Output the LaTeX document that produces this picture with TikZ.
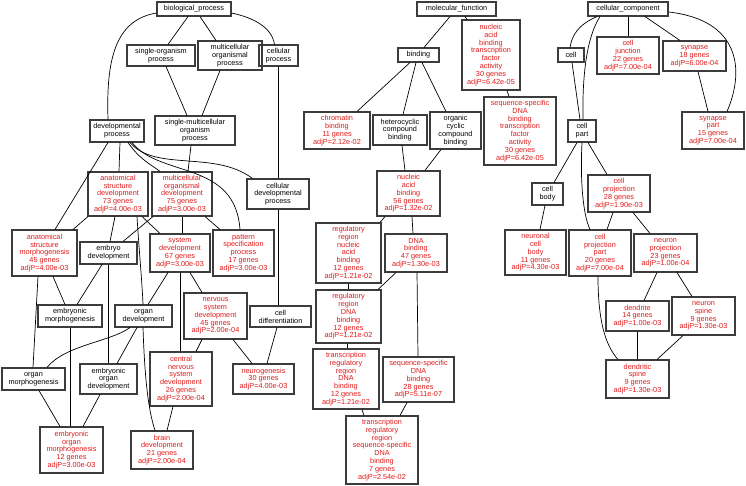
\documentclass[tikz,border=0pt]{standalone}
\usepackage{fontspec}
\setmainfont{Liberation Sans}
\definecolor{gored}{RGB}{225,25,25}
\definecolor{boxline}{RGB}{60,60,60}
\tikzset{
  bx/.style={draw=boxline, line width=1.05pt, inner sep=0pt, align=center,
    font=\fontsize{7.3}{7.8}\selectfont, text=black},
  rd/.style={bx, text=gored},
  edge/.style={draw=black, line width=0.7pt}
}
\newcommand\gn[7]{\node[#1,minimum width=#5pt,minimum height=#6pt] (#2) at (#3,#4) {#7};}
\newcommand\E[4]{\draw[edge] ([xshift=#2]#1.south) -- ([xshift=#4]#3.north);}
\begin{document}
\begin{tikzpicture}[x=1pt,y=-1pt]
\useasboundingbox[fill=white] (0,0) rectangle (746,486);
% ---------------- biological process
\gn{bx}{bp}{194}{9}{74}{14}{biological\_process}
\gn{bx}{sop}{161}{55.5}{68}{21}{single-organism\\process}
\gn{bx}{mop}{230}{55.5}{64}{29}{multicellular\\organismal\\process}
\gn{bx}{cp}{278.5}{55.5}{39}{21}{cellular\\process}
\gn{bx}{dp}{117}{131}{54}{22}{developmental\\process}
\gn{bx}{smop}{195}{130.5}{80}{29}{single-multicellular\\organism\\process}
\gn{rd}{asd}{118}{194}{60}{44}{anatomical\\structure\\development\\73 genes\\adjP=4.00e-03}
\gn{rd}{mod}{182}{194}{60}{44}{multicellular\\organismal\\development\\75 genes\\adjP=3.00e-03}
\gn{bx}{cdp}{278}{194}{62}{30}{cellular\\developmental\\process}
\gn{rd}{asm}{44.5}{253}{65}{46}{anatomical\\structure\\morphogenesis\\45 genes\\adjP=4.00e-03}
\gn{bx}{ed}{108.5}{253}{57}{22}{embryo\\development}
\gn{rd}{sd}{180}{253}{60}{38}{system\\development\\67 genes\\adjP=3.00e-03}
\gn{rd}{psp}{243.5}{253}{61}{46}{pattern\\specification\\process\\17 genes\\adjP=3.00e-03}
\gn{bx}{em}{70}{316}{64}{22}{embryonic\\morphogenesis}
\gn{bx}{od}{143.5}{316}{57}{22}{organ\\development}
\gn{rd}{nsd}{215.5}{316}{63}{46}{nervous\\system\\development\\45 genes\\adjP=2.00e-04}
\gn{bx}{cd}{280.5}{316.5}{61}{21}{cell\\differentiation}
\gn{bx}{om}{33.5}{379}{63}{22}{organ\\morphogenesis}
\gn{bx}{eod}{108.5}{379}{57}{30}{embryonic\\organ\\development}
\gn{rd}{cnsd}{181}{379}{62}{54}{central\\nervous\\system\\development\\26 genes\\adjP=2.00e-04}
\gn{rd}{ng}{263.5}{379}{61}{30}{neurogenesis\\30 genes\\adjP=4.00e-03}
\gn{rd}{eom}{71.5}{450}{63}{46}{embryonic\\organ\\morphogenesis\\12 genes\\adjP=3.00e-03}
\gn{rd}{brd}{162}{450}{62}{38}{brain\\development\\21 genes\\adjP=2.00e-04}
% ---------------- molecular function
\gn{bx}{mf}{456.5}{9}{79}{14}{molecular\_function}
\gn{bx}{bind}{418.5}{55}{41}{14}{binding}
\gn{rd}{nabtfa}{491}{55}{58}{70}{nucleic\\acid\\binding\\transcription\\factor\\activity\\30 genes\\adjP=6.42e-05}
\gn{rd}{chb}{337}{130.5}{66}{37}{chromatin\\binding\\11 genes\\adjP=2.12e-02}
\gn{bx}{hcb}{400}{130}{54}{30}{heterocyclic\\compound\\binding}
\gn{bx}{occb}{455.5}{130.5}{51}{37}{organic\\cyclic\\compound\\binding}
\gn{rd}{ssdbtfa}{520}{131}{72}{68}{sequence-specific\\DNA\\binding\\transcription\\factor\\activity\\30 genes\\adjP=6.42e-05}
\gn{rd}{nab}{408.5}{193.5}{63}{45}{nucleic\\acid\\binding\\56 genes\\adjP=1.32e-02}
\gn{rd}{rrnab}{348.5}{253}{65}{60}{regulatory\\region\\nucleic\\acid\\binding\\12 genes\\adjP=1.21e-02}
\gn{rd}{dnab}{416}{253}{62}{38}{DNA\\binding\\47 genes\\adjP=1.30e-03}
\gn{rd}{rrdb}{348.5}{316.5}{65}{53}{regulatory\\region\\DNA\\binding\\12 genes\\adjP=1.21e-02}
\gn{rd}{trrdb}{346}{379}{66}{60}{transcription\\regulatory\\region\\DNA\\binding\\12 genes\\adjP=1.21e-02}
\gn{rd}{ssdb}{418.5}{379.5}{71}{45}{sequence-specific\\DNA\\binding\\28 genes\\adjP=5.11e-07}
\gn{rd}{trrssdb}{382}{450}{72}{68}{transcription\\regulatory\\region\\sequence-specific\\DNA\\binding\\7 genes\\adjP=2.54e-02}
% ---------------- cellular component
\gn{bx}{cc}{628}{9}{80}{14}{cellular\_component}
\gn{bx}{cell}{571}{55}{26}{14}{cell}
\gn{rd}{cj}{628}{55.5}{62}{37}{cell\\junction\\22 genes\\adjP=7.00e-04}
\gn{rd}{syn}{694.5}{56}{63}{30}{synapse\\18 genes\\adjP=6.00e-04}
\gn{rd}{synp}{713}{130.5}{62}{37}{synapse\\part\\15 genes\\adjP=7.00e-04}
\gn{bx}{cpart}{582}{131}{28}{22}{cell\\part}
\gn{bx}{cbody}{547.5}{194}{31}{22}{cell\\body}
\gn{rd}{cproj}{619}{193.5}{62}{37}{cell\\projection\\28 genes\\adjP=1.90e-03}
\gn{rd}{ncb}{535.5}{252.5}{61}{45}{neuronal\\cell\\body\\11 genes\\adjP=4.30e-03}
\gn{rd}{cpp}{600}{253}{62}{46}{cell\\projection\\part\\20 genes\\adjP=7.00e-04}
\gn{rd}{np}{665.5}{253}{63}{38}{neuron\\projection\\23 genes\\adjP=1.00e-04}
\gn{rd}{dend}{637.5}{316}{63}{30}{dendrite\\14 genes\\adjP=1.00e-03}
\gn{rd}{nsp}{703.5}{316}{63}{38}{neuron\\spine\\9 genes\\adjP=1.30e-03}
\gn{rd}{dsp}{637.5}{379}{63}{38}{dendritic\\spine\\9 genes\\adjP=1.30e-03}
% ---------------- BP edges
\draw[edge] ([yshift=-4pt]bp.west) .. controls (115,20) and (106,60) .. ([xshift=-9]dp.north);
\E{bp}{-6}{sop}{7}
\E{bp}{6}{mop}{-14}
\draw[edge] ([yshift=-4pt]bp.east) .. controls (255,18) and (272,28) .. ([xshift=-4]cp.north);
\E{sop}{5}{smop}{-8}
\E{mop}{-10}{smop}{7}
\E{cp}{-0.5}{cdp}{0}
\E{dp}{-9}{asm}{10.5}
\E{dp}{3}{asd}{1}
\draw[edge] ([xshift=11]dp.south) .. controls (140,160) and (152,165) .. ([xshift=-22]mod.north);
\draw[edge] ([xshift=13]dp.south) .. controls (155,172) and (215,150) .. ([xshift=6]cdp.north west);
\draw[edge] ([xshift=15]dp.south) .. controls (160,178) and (235,160) .. ([xshift=-3.5]psp.north);
\E{smop}{-4}{mod}{6}
\E{asd}{-30}{asm}{28.5}
\E{asd}{-3}{ed}{1.5}
\E{asd}{24}{sd}{-20}
\draw[edge] ([xshift=19]asd.south) .. controls (139,250) and (142,280) .. ([xshift=-0.5]od.north);
\E{mod}{-29}{ed}{14.5}
\E{mod}{0}{sd}{2}
\E{mod}{23}{psp}{-23.5}
\E{cdp}{0}{cd}{-2.5}
\E{asm}{8.5}{em}{-5}
\E{asm}{-6.5}{om}{-0.5}
\E{ed}{-6.5}{em}{7}
\E{ed}{0}{eod}{0}
\E{sd}{-12}{od}{4.5}
\E{sd}{0}{cnsd}{-1}
\E{sd}{10}{nsd}{-13.5}
\E{em}{0}{eom}{-1.5}
\draw[edge] ([xshift=-13.5]od.south) .. controls (110,342) and (65,345) .. ([xshift=13.5]om.north);
\E{od}{-6.5}{eod}{8.5}
\draw[edge] ([xshift=-0.5]od.south) .. controls (145,390) and (150,415) .. ([xshift=-7]brd.north);
\E{nsd}{-13.5}{cnsd}{15}
\E{nsd}{17.5}{ng}{-11.5}
\E{cd}{-3.5}{ng}{3.5}
\E{om}{5.5}{eom}{-11.5}
\E{eod}{-8.5}{eom}{11.5}
\E{cnsd}{-8}{brd}{5}
% ---------------- MF edges
\E{mf}{-6.5}{bind}{5.5}
\E{mf}{8.5}{nabtfa}{-24}
\E{nabtfa}{16}{ssdbtfa}{-11}
\E{bind}{-8.5}{chb}{20}
\E{bind}{-2.5}{hcb}{3}
\E{bind}{3.5}{occb}{-9.5}
\E{hcb}{2}{nab}{-3.5}
\E{occb}{-14.5}{nab}{16.5}
\E{nab}{-23.5}{rrnab}{31.5}
\E{nab}{3.5}{dnab}{-3}
\E{rrnab}{0}{rrdb}{0}
\E{dnab}{-20}{rrdb}{29.5}
\E{dnab}{1}{ssdb}{-0.5}
\E{rrdb}{-1.5}{trrdb}{1}
\E{trrdb}{16}{trrssdb}{-18}
\E{ssdb}{-11.5}{trrssdb}{18}
% ---------------- CC edges
\draw[edge] ([xshift=-31]cc.south) .. controls (578,25) and (572,35) .. ([xshift=-1]cell.north);
\draw[edge] ([xshift=-28]cc.south) .. controls (588,35) and (582,70) .. ([xshift=1]cpart.north);
\E{cc}{0}{cj}{0}
\E{cc}{17}{syn}{-14.5}
\draw[edge] ([yshift=-3pt]cc.east) .. controls (740,20) and (745,70) .. ([xshift=14]synp.north);
\E{cell}{1}{cpart}{-2}
\E{syn}{3.5}{synp}{-5}
\E{cpart}{-5}{cbody}{6.5}
\E{cpart}{6}{cproj}{-12}
\draw[edge] (cpart.south) .. controls (580,180) and (583,215) .. ([xshift=-10]cpp.north);
\E{cproj}{-6}{cpp}{7}
\E{cproj}{14}{np}{-15.5}
\E{cbody}{-2.5}{ncb}{4.5}
\E{np}{-8.5}{dend}{6.5}
\E{np}{11.5}{nsp}{-11.5}
\draw[edge] ([xshift=-2]cpp.south) .. controls (598,320) and (605,345) .. ([xshift=-19.5]dsp.north);
\E{dend}{0}{dsp}{0}
\E{nsp}{-20.5}{dsp}{19.5}
\end{tikzpicture}
\end{document}
